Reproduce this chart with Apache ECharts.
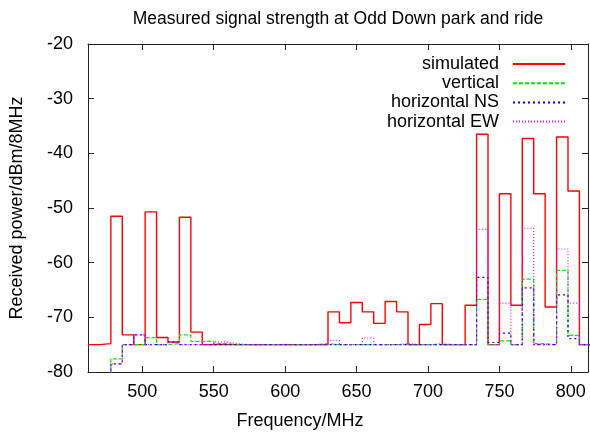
<!DOCTYPE html>
<html>
<head>
<meta charset="utf-8">
<script src="https://cdn.jsdelivr.net/npm/echarts@6/dist/echarts.min.js"></script>
<style>html,body{margin:0;padding:0;background:#fff;}#c{width:590px;height:438px;}</style>
</head>
<body>
<div id="c"></div>
<script>
// Channel centre frequencies (MHz), 8 MHz wide channels
const freqs = [466, 474, 482, 490, 498, 506, 514, 522, 530, 538, 546, 554, 562, 570, 578, 586, 594, 602, 610, 618,
  626, 634, 642, 650, 658, 666, 674, 682, 690, 698, 706, 714, 722, 730, 738, 746, 754, 762, 770, 778, 786, 794, 802, 810];

const simulated = [-75.0, -74.8, -51.5, -73.2, -75.0, -50.7, -73.7, -74.5, -51.7, -72.7, -75.0,
  -75.0, -75.0, -75.0, -75.0, -75.0, -75.0, -75.0, -75.0, -75.0, -75.0,
  -69.0, -71.0, -67.3, -69.0, -71.1, -67.1, -69.0, -75.0, -71.3, -67.5, -75.0, -75.0, -67.8,
  -36.5, -75.0, -47.4, -67.8, -37.3, -47.4, -68.1, -37.0, -46.9, -75.0];

const vertical = [null, -85.0, -77.6, -75.0, -75.0, -73.7, -75.0, -74.8, -73.2, -74.4, -74.4,
  -74.8, -75.0, -75.0, -75.0, -75.0, -75.0, -75.0, -75.0, -75.0, -74.8,
  -75.0, -75.0, -75.0, -75.0, -75.0, -75.0, -75.0, -75.0, -75.0, -75.0, -75.0, -75.0, -75.0,
  -66.7, -75.0, -74.3, -75.0, -63.0, -74.8, -75.0, -61.4, -73.3, -75.0];

const horizontalNS = [null, -85.0, -78.5, -75.0, -73.2, -75.0, -75.0, -74.5, -75.0, -75.0, -75.0,
  -75.0, -75.0, -75.0, -75.0, -75.0, -75.0, -75.0, -75.0, -75.0, -75.0,
  -75.0, -75.0, -75.0, -75.0, -75.0, -75.0, -75.0, -75.0, -75.0, -75.0, -75.0, -75.0, -75.0,
  -62.7, -74.6, -72.9, -75.0, -64.6, -75.0, -75.0, -65.9, -73.9, -75.0];

const horizontalEW = [null, -85.0, -78.5, -75.0, -73.2, -75.0, -75.0, -74.5, -75.0, -75.0, -75.0,
  -74.5, -74.8, -75.0, -75.0, -75.0, -75.0, -75.0, -75.0, -75.0, -75.0,
  -74.2, -75.0, -75.0, -73.8, -75.0, -75.0, -74.8, -75.0, -75.0, -74.8, -75.0, -75.0, -75.0,
  -53.9, -75.0, -67.4, -75.0, -53.7, -75.0, -75.0, -57.5, -67.4, -75.0];

const xTicks = [500, 550, 600, 650, 700, 750, 800];
const yTicks = [-80, -70, -60, -50, -40, -30, -20];

const seriesNames = ['simulated', 'vertical', 'horizontal NS', 'horizontal EW'];
const seriesValues = [simulated, vertical, horizontalNS, horizontalEW];
const seriesColors = ['#ff0000', '#00ee00', '#0000ff', '#ff00ff'];
const seriesDash = ['solid', [4, 2], [2, 3], [1, 2]];
const seriesWidth = [1.4, 1.2, 1.2, 1.2];

const HALF = 4; // half channel width (MHz)
function toSteps(vals) {
  const pts = [];
  for (let i = 0; i < freqs.length; i++) {
    if (vals[i] === null) continue;
    pts.push([freqs[i] - HALF, vals[i]]);
  }
  const last = freqs.length - 1;
  pts.push([freqs[last] + HALF, vals[last]]);
  return pts;
}

const FONT = 'Liberation Sans';
const FS = 18;
const chart = echarts.init(document.getElementById('c'), null, {renderer: 'canvas'});

const axisCommon = {
  axisLine: {show: true, onZero: false, lineStyle: {color: '#222', width: 1}},
  splitLine: {show: false}
};

const legends = seriesNames.map((n, i) => ({
  data: [n],
  orient: 'vertical',
  align: 'right',
  right: 19,
  top: 50 + i * 19.2,
  itemWidth: 52,
  itemHeight: 14,
  selectedMode: false,
  itemStyle: {opacity: 0},
  textStyle: {fontFamily: FONT, fontSize: FS, color: '#000', padding: [0, 9, 0, 0]}
}));

chart.setOption({
  animation: false,
  backgroundColor: '#fff',
  title: {
    text: 'Measured signal strength at Odd Down park and ride',
    left: 333,
    textAlign: 'center',
    top: 5,
    textStyle: {fontFamily: FONT, fontSize: 17.5, fontWeight: 'normal', color: '#000'}
  },
  legend: legends,
  grid: {left: 85, right: 2, top: 44, bottom: 66, containLabel: false},
  xAxis: [
    Object.assign({}, axisCommon, {
      type: 'value', position: 'bottom', min: 462, max: 812,
      name: 'Frequency/MHz', nameLocation: 'middle', nameGap: 40,
      nameTextStyle: {fontFamily: FONT, fontSize: FS, color: '#000', padding: [0, 76, 0, 0]},
      axisTick: {show: true, inside: true, length: 6, customValues: xTicks, lineStyle: {color: '#222'}},
      axisLabel: {show: true, customValues: xTicks, margin: 11, fontFamily: FONT, fontSize: FS, color: '#000'}
    }),
    Object.assign({}, axisCommon, {
      type: 'value', position: 'top', min: 462, max: 812,
      axisTick: {show: true, inside: true, length: 6, customValues: xTicks, lineStyle: {color: '#222'}},
      axisLabel: {show: false}
    })
  ],
  yAxis: [
    Object.assign({}, axisCommon, {
      type: 'value', position: 'left', min: -80, max: -20, interval: 10,
      name: 'Received power/dBm/8MHz', nameLocation: 'middle', nameGap: 62,
      nameTextStyle: {fontFamily: FONT, fontSize: FS, color: '#000'},
      axisTick: {show: true, inside: true, length: 6, lineStyle: {color: '#222'}},
      axisLabel: {show: true, margin: 15, fontFamily: FONT, fontSize: FS, color: '#000'}
    }),
    Object.assign({}, axisCommon, {
      type: 'value', position: 'right', min: -80, max: -20, interval: 10,
      axisTick: {show: true, inside: true, length: 6, lineStyle: {color: '#222'}},
      axisLabel: {show: false}
    })
  ],
  series: seriesNames.map((n, i) => ({
    name: n,
    type: 'line',
    step: 'end',
    xAxisIndex: 0,
    yAxisIndex: 0,
    symbol: 'none',
    clip: true,
    connectNulls: false,
    data: toSteps(seriesValues[i]),
    lineStyle: {color: seriesColors[i], width: seriesWidth[i], type: seriesDash[i]},
    itemStyle: {color: seriesColors[i]}
  }))
});
</script>
</body>
</html>
